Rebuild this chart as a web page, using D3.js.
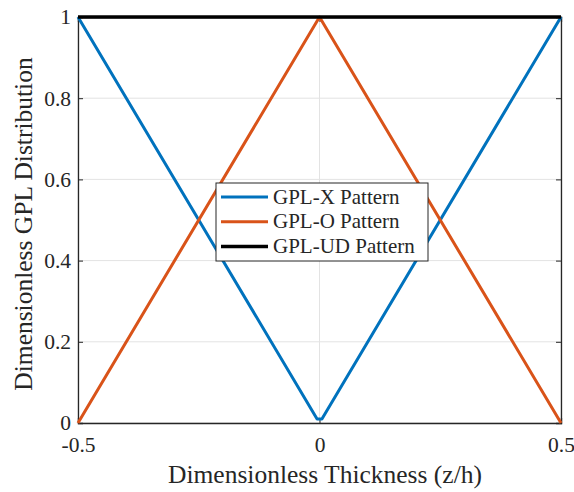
<!DOCTYPE html>
<html>
<head>
<meta charset="utf-8">
<script src="https://cdn.jsdelivr.net/npm/d3@7"></script>
<style>
  body { margin: 0; background: #fff; }
  text { font-family: "Liberation Serif", "Times New Roman", serif; fill: #262626; }
</style>
</head>
<body>
<div class="chart"></div>
<script>
// thickness coordinate z/h and GPL distribution for each pattern
var zX = [-0.5, -0.005, 0.005, 0.5];
var gplX = [1, 0.01, 0.01, 1];
var zO = [-0.5, 0, 0.5];
var gplO = [0, 1, 0];
var zUD = [-0.5, 0.5];
var gplUD = [1, 1];

var xTicks = [-0.5, 0, 0.5];
var yTicks = [0, 0.2, 0.4, 0.6, 0.8, 1];
var seriesNames = ["GPL-X Pattern", "GPL-O Pattern", "GPL-UD Pattern"];
var color = ["#0072BD", "#D95319", "#000000"];

var W = 574, H = 492;
var mLeft = 78, mRight = 561, mTop = 17, mBottom = 423;

var svg = d3.select(".chart")
    .append("svg")
    .attr("width", W)
    .attr("height", H)

var x = d3.scaleLinear().domain([-0.5, 0.5]).range([mLeft, mRight]);
var y = d3.scaleLinear().domain([0, 1]).range([mBottom, mTop]);
var fmt = d => String(d);

// grid
svg.selectAll(".gy")
    .data(yTicks)
    .enter().append("line")
    .attr("x1", mLeft).attr("x2", mRight)
    .attr("y1", d => y(d)).attr("y2", d => y(d))
    .attr("stroke", "#e3e3e3").attr("stroke-width", 1)
svg.selectAll(".gx")
    .data(xTicks)
    .enter().append("line")
    .attr("x1", d => x(d)).attr("x2", d => x(d))
    .attr("y1", mTop).attr("y2", mBottom)
    .attr("stroke", "#e3e3e3").attr("stroke-width", 1)

// axes, ticks inward
svg.append("g").attr("transform", "translate(0," + mBottom + ")")
    .call(d3.axisBottom(x).tickValues(xTicks).tickSize(-5).tickPadding(14).tickFormat(fmt))
svg.append("g").attr("transform", "translate(0," + mTop + ")")
    .call(d3.axisTop(x).tickValues(xTicks).tickSize(-5).tickFormat(""))
svg.append("g").attr("transform", "translate(" + mLeft + ",0)")
    .call(d3.axisLeft(y).tickValues(yTicks).tickSize(-5).tickPadding(7).tickFormat(fmt))
svg.append("g").attr("transform", "translate(" + mRight + ",0)")
    .call(d3.axisRight(y).tickValues(yTicks).tickSize(-5).tickFormat(""))

svg.selectAll(".domain").attr("stroke", "#262626").attr("stroke-width", 1.3)
svg.selectAll(".tick line").attr("stroke", "#262626")
svg.selectAll(".tick text")
    .style("font-size", "21.5px")
    .attr("font-family", "Liberation Serif")
    .attr("fill", "#262626")

// series
var line = d3.line().x(d => x(d[0])).y(d => y(d[1]));
var series = [
    d3.zip(zX, gplX),
    d3.zip(zO, gplO),
    d3.zip(zUD, gplUD)
];
series.forEach(function (s, i) {
    svg.append("path")
        .datum(s)
        .attr("d", line)
        .attr("fill", "none")
        .attr("stroke", color[i])
        .attr("stroke-width", i == 2 ? 3.5 : 3)
        .attr("stroke-linejoin", "round")
})

// axis labels
svg.append("text")
    .attr("x", 325)
    .attr("y", 483)
    .attr("text-anchor", "middle")
    .text("Dimensionless Thickness (z/h)")
    .style("font-size", "25.5px")
    .attr("font-family", "Liberation Serif")

svg.append("text")
    .attr("transform", "translate(32,224) rotate(-90)")
    .attr("text-anchor", "middle")
    .text("Dimensionless GPL Distribution")
    .style("font-size", "25.5px")
    .attr("font-family", "Liberation Serif")

// legend
var lg = svg.append("g").attr("transform", "translate(216,183)")
lg.append("rect")
    .attr("width", 212).attr("height", 78)
    .attr("fill", "#fff").attr("stroke", "#262626").attr("stroke-width", 1)
for (var i = 0; i < 3; i++) {
    lg.append("line")
        .attr("x1", 5).attr("x2", 52)
        .attr("y1", 14 + 24.8 * i).attr("y2", 14 + 24.8 * i)
        .attr("stroke", color[i]).attr("stroke-width", i == 2 ? 3.5 : 3)
    lg.append("text")
        .attr("x", 57)
        .attr("y", 20.5 + 24.8 * i)
        .text(seriesNames[i])
        .style("font-size", "21px")
        .attr("font-family", "Liberation Serif")
        .attr("fill", "#000")
}
</script>
</body>
</html>
